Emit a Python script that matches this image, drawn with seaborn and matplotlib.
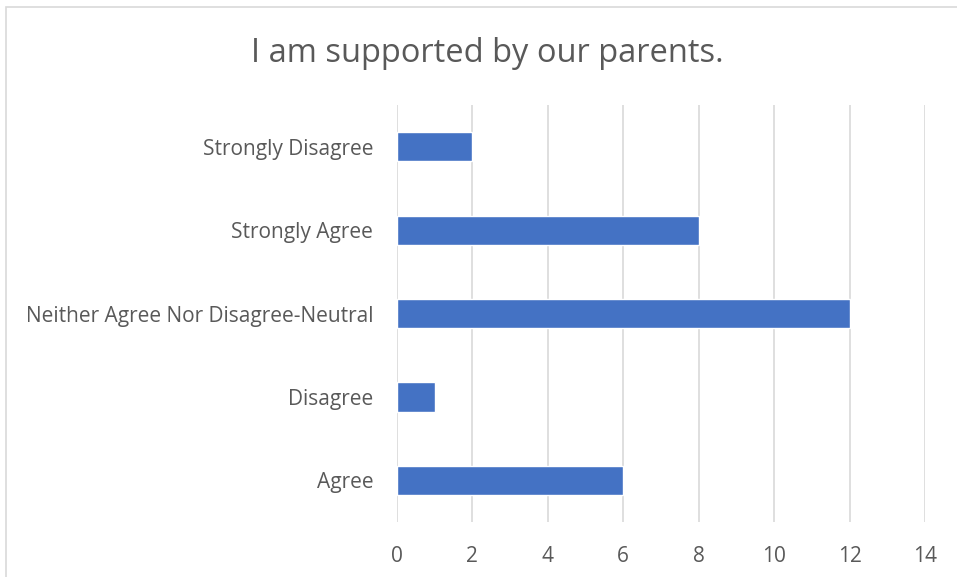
import matplotlib.pyplot as plt
import seaborn as sns
from matplotlib.patches import Rectangle

# Data (top to bottom as shown)
categories = ["Strongly Disagree", "Strongly Agree", "Neither Agree Nor Disagree-Neutral",
              "Disagree", "Agree"]
counts = [2, 8, 12, 1, 6]
x_ticks = [0, 2, 4, 6, 8, 10, 12, 14]

sns.set_style("white")
plt.rcParams["font.family"] = ["Open Sans", "DejaVu Sans"]

text_col = "#595959"
fig = plt.figure(figsize=(9.57, 5.77), dpi=100)
ax = fig.add_axes([0.4148, 0.0953, 0.5518, 0.7227])

sns.barplot(x=counts, y=categories, color="#4472C4", width=0.35,
            saturation=1, ax=ax, orient="h")

ax.set_xlim(0, 14)
ax.set_xticks(x_ticks)
ax.grid(axis="x", color="#d9d9d9", linewidth=1.2)
ax.set_axisbelow(True)
for s in ax.spines.values():
    s.set_visible(False)
ax.tick_params(axis="both", length=0, colors=text_col, labelsize=15)
ax.tick_params(axis="y", pad=17)
ax.tick_params(axis="x", pad=17)
ax.set_xlabel("")
ax.set_ylabel("")

fig.text(0.509, 0.908, "I am supported by our parents.", ha="center", va="center",
         fontsize=23.5, color=text_col)

# Chart border
fig.patches.append(Rectangle((6 / 957, -0.01), 1.02, 1 - 6.5 / 577 + 0.01,
                             transform=fig.transFigure, fill=False,
                             edgecolor="#d9d9d9", linewidth=1.2))

fig.savefig("out.png", dpi=100)
